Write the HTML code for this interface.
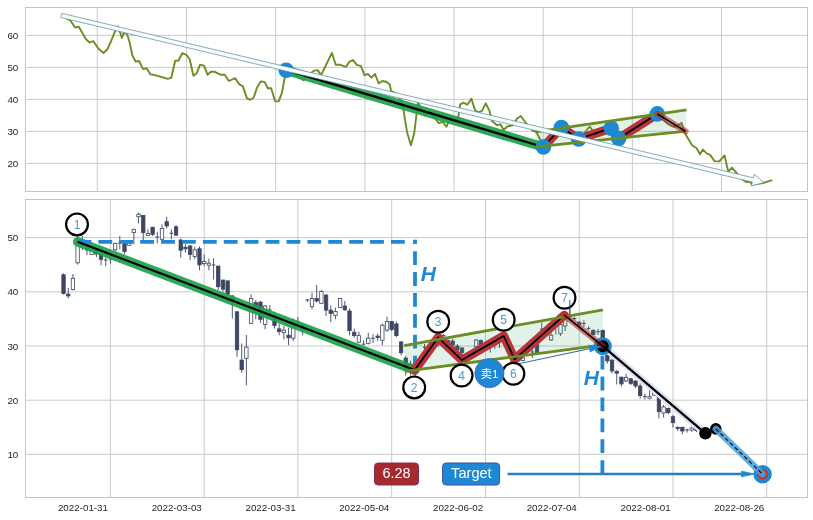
<!DOCTYPE html>
<html><head><meta charset="utf-8"><title>chart</title>
<style>html,body{margin:0;padding:0;background:#fff}svg{display:block}svg text{font-family:"Liberation Sans",sans-serif}svg text.cjk{font-family:"Liberation Sans","Noto Sans CJK SC",sans-serif}</style></head>
<body>
<svg width="813" height="520" viewBox="0 0 813 520">
<rect width="813" height="520" fill="#fff"/>
<defs>
<clipPath id="ct"><rect x="25.5" y="7.5" width="782.0" height="184.0"/></clipPath>
<clipPath id="cb"><rect x="25.5" y="199.5" width="782.0" height="298.0"/></clipPath>
</defs>
<path d="M97.3 7.5V191.5M186.5 7.5V191.5M275.7 7.5V191.5M364.9 7.5V191.5M454.0 7.5V191.5M543.2 7.5V191.5M632.4 7.5V191.5M721.5 7.5V191.5M25.5 35.4H807.5M25.5 67.4H807.5M25.5 99.4H807.5M25.5 131.4H807.5M25.5 163.4H807.5" stroke="#c4c4c4" stroke-width="0.9" fill="none"/>
<text x="18.3" y="38.9" font-size="9.8" fill="#262626" text-anchor="end">60</text>
<text x="18.3" y="70.9" font-size="9.8" fill="#262626" text-anchor="end">50</text>
<text x="18.3" y="102.9" font-size="9.8" fill="#262626" text-anchor="end">40</text>
<text x="18.3" y="134.9" font-size="9.8" fill="#262626" text-anchor="end">30</text>
<text x="18.3" y="166.9" font-size="9.8" fill="#262626" text-anchor="end">20</text>
<g clip-path="url(#ct)">
<polyline points="67.6,19.2 70.4,20.4 75.1,27.6 78.8,26.7 86.0,39.3 89.6,42.6 93.2,41.0 98.5,48.8 103.5,53.0 107.4,49.3 111.1,41.0 115.6,30.1 117.7,26.4 119.9,31.8 121.9,38.0 123.9,32.6 126.9,33.8 129.5,41.8 132.3,55.2 135.6,61.5 139.0,61.0 143.2,69.1 146.7,68.2 150.4,74.4 153.7,74.8 160.4,76.6 167.9,78.8 171.3,77.8 175.1,61.0 178.5,60.5 182.2,53.2 186.4,54.8 189.7,59.3 193.4,75.7 196.7,73.2 200.1,64.6 203.9,65.6 207.6,74.8 210.9,71.8 214.8,71.8 221.0,74.8 224.8,74.7 228.8,81.0 235.2,78.2 239.4,84.4 242.7,86.1 246.9,98.1 250.3,99.8 253.6,97.8 257.3,86.9 260.8,81.5 264.5,81.9 267.8,88.2 271.2,88.2 275.0,101.1 278.7,101.4 282.0,92.7 284.5,78.5 286.2,70.2 290.0,72.5 294.0,74.0 298.5,77.0 303.4,80.1 308.0,76.0 313.5,70.9 317.6,70.1 321.0,75.1 325.2,66.8 331.9,52.9 335.7,64.8 339.4,64.6 346.1,66.8 349.4,61.7 353.1,60.1 357.0,65.1 360.8,65.9 364.5,75.1 367.8,74.0 371.5,77.6 375.0,74.0 378.7,83.5 382.4,81.0 386.2,81.8 389.6,84.3 391.2,91.0 395.0,93.0 399.0,96.0 403.4,109.3 407.0,131.9 410.9,145.2 414.2,133.5 416.7,112.6 417.9,102.6 421.0,108.0 424.8,115.6 428.0,112.0 431.5,113.0 435.1,118.5 438.8,123.2 442.7,121.8 446.4,126.8 448.5,121.8 452.0,120.0 455.0,121.0 458.2,117.6 460.2,104.3 463.6,102.6 467.3,104.8 471.4,98.7 475.0,110.1 478.1,112.3 482.0,110.9 485.8,103.4 489.5,110.9 492.0,121.0 497.0,125.2 500.4,124.3 503.7,130.2 507.1,126.5 512.9,125.2 517.1,118.5 520.8,116.0 526.3,123.5 530.0,127.5 533.0,131.0 536.0,131.5 540.0,139.0 543.5,146.4 547.0,141.0 550.5,137.0 554.0,133.0 557.5,131.0 561.4,127.5 565.0,131.0 568.5,133.0 572.0,136.0 575.5,137.0 578.7,139.0 582.0,136.0 586.0,131.0 589.7,126.5 593.0,131.0 597.0,132.0 600.5,131.0 604.0,130.0 607.5,129.0 611.2,128.2 615.0,134.0 618.6,138.6 622.0,136.0 626.0,133.0 629.5,132.0 633.0,130.0 636.5,127.0 640.0,125.0 643.5,123.0 647.0,120.0 650.5,118.0 654.0,116.0 657.3,113.9 661.0,118.0 664.5,121.0 668.0,124.0 671.5,126.0 675.0,127.0 678.5,125.0 681.6,122.8 684.9,133.3 692.3,145.5 696.4,148.0 700.0,154.2 702.9,149.6 707.0,153.7 710.3,154.9 714.4,161.1 719.3,161.4 724.5,155.4 728.3,171.7 732.0,167.6 737.3,173.8 742.2,179.1 746.3,182.0 750.3,181.5 752.0,184.8 756.0,184.0 760.0,183.5 764.2,182.7 771.6,180.4" fill="none" stroke="#6b8e23" stroke-width="1.9" stroke-linejoin="round" stroke-linecap="round"/>
<polygon points="535.5,131.8 686.6,109.9 686,131.2 536,146.8" fill="#3aa060" fill-opacity="0.14"/>
<path d="M286.2 70.2L543.4 147.0" stroke="#1fa24a" stroke-opacity="0.93" stroke-width="9.4" stroke-linecap="round" fill="none"/>
<polyline points="543.4,147.0 561.4,127.5 578.7,139 611.2,128.2 618.6,138.6 657.3,113.9" stroke="#b8343a" stroke-width="9" stroke-linecap="round" stroke-linejoin="round" fill="none"/>
<path d="M286.2 70.2L543.4 147.0" stroke="#000" stroke-width="2.3" fill="none"/>
<polyline points="543.4,147.0 561.4,127.5 578.7,139 611.2,128.2 618.6,138.6 657.3,113.9" stroke="#000" stroke-width="1.8" stroke-linejoin="round" fill="none"/>
<circle cx="286.2" cy="70.2" r="7.8" fill="#1f88d2"/>
<circle cx="543.4" cy="147.0" r="7.8" fill="#1f88d2"/>
<circle cx="561.4" cy="127.5" r="7.8" fill="#1f88d2"/>
<circle cx="578.7" cy="139" r="7.8" fill="#1f88d2"/>
<circle cx="611.2" cy="128.2" r="7.8" fill="#1f88d2"/>
<circle cx="618.6" cy="138.6" r="7.8" fill="#1f88d2"/>
<circle cx="657.3" cy="113.9" r="7.8" fill="#1f88d2"/>
<path d="M535.5 131.8L686.6 109.9M536 146.8L686 131.2" stroke="#6b8e23" stroke-width="2.8" fill="none"/>
<path d="M657.3 113.9L685.6 131.4" stroke="#be282d" stroke-opacity="0.6" stroke-width="6" stroke-linecap="round" fill="none"/>
<path d="M657.3 113.9L685.6 131.4" stroke="#000" stroke-width="1.7" fill="none"/>
<polygon points="60.7,17.5 752.3,182.1 751.4,185.8 764.0,182.6 754.2,174.1 753.3,177.8 61.7,13.3" fill="#f6fdff" stroke="#5d8796" stroke-width="0.7" stroke-linejoin="miter"/>
</g>
<rect x="25.5" y="7.5" width="782.0" height="184.0" fill="none" stroke="#c4c4c4" stroke-width="1"/>
<path d="M110.4 199.5V497.5M204.2 199.5V497.5M297.9 199.5V497.5M391.7 199.5V497.5M485.5 199.5V497.5M579.2 199.5V497.5M673.0 199.5V497.5M766.7 199.5V497.5M25.5 237.6H807.5M25.5 291.8H807.5M25.5 346.0H807.5M25.5 400.2H807.5M25.5 454.4H807.5" stroke="#c4c4c4" stroke-width="0.9" fill="none"/>
<text x="18.3" y="241.1" font-size="9.8" fill="#262626" text-anchor="end">50</text>
<text x="18.3" y="295.3" font-size="9.8" fill="#262626" text-anchor="end">40</text>
<text x="18.3" y="349.5" font-size="9.8" fill="#262626" text-anchor="end">30</text>
<text x="18.3" y="403.7" font-size="9.8" fill="#262626" text-anchor="end">20</text>
<text x="18.3" y="457.9" font-size="9.8" fill="#262626" text-anchor="end">10</text>
<text x="108.0" y="511.2" font-size="9.8" fill="#262626" text-anchor="end">2022-01-31</text>
<text x="201.8" y="511.2" font-size="9.8" fill="#262626" text-anchor="end">2022-03-03</text>
<text x="295.6" y="511.2" font-size="9.8" fill="#262626" text-anchor="end">2022-03-31</text>
<text x="389.3" y="511.2" font-size="9.8" fill="#262626" text-anchor="end">2022-05-04</text>
<text x="483.1" y="511.2" font-size="9.8" fill="#262626" text-anchor="end">2022-06-02</text>
<text x="576.8" y="511.2" font-size="9.8" fill="#262626" text-anchor="end">2022-07-04</text>
<text x="670.6" y="511.2" font-size="9.8" fill="#262626" text-anchor="end">2022-08-01</text>
<text x="764.3" y="511.2" font-size="9.8" fill="#262626" text-anchor="end">2022-08-26</text>
<g clip-path="url(#cb)">
<g><path d="M63.55 273.3V294.6" stroke="#3d4663" stroke-width="0.9"/><rect x="61.85" y="274.8" width="3.4" height="18.6" fill="#3d4663" stroke="#3d4663" stroke-width="0.8"/><path d="M68.24 287.8V298.4" stroke="#3d4663" stroke-width="0.9"/><rect x="66.54" y="294.1" width="3.4" height="1.8" fill="#3d4663" stroke="#3d4663" stroke-width="0.8"/><path d="M72.93 274V290.4" stroke="#3d4663" stroke-width="0.9"/><rect x="71.23" y="278.3" width="3.4" height="11.3" fill="#fff" stroke="#3d4663" stroke-width="0.8"/><path d="M77.61 236V264.6" stroke="#3d4663" stroke-width="0.9"/><rect x="75.91" y="242.2" width="3.4" height="20.6" fill="#fff" stroke="#3d4663" stroke-width="0.8"/><path d="M82.30 236V250" stroke="#3d4663" stroke-width="0.9"/><rect x="80.60" y="240" width="3.4" height="6.0" fill="#3d4663" stroke="#3d4663" stroke-width="0.8"/><path d="M86.99 243.5V255.2" stroke="#3d4663" stroke-width="0.9"/><rect x="85.29" y="246" width="3.4" height="4.0" fill="#3d4663" stroke="#3d4663" stroke-width="0.8"/><path d="M91.68 247V255" stroke="#3d4663" stroke-width="0.9"/><rect x="89.98" y="250.2" width="3.4" height="4.2" fill="#fff" stroke="#3d4663" stroke-width="0.8"/><path d="M96.37 248V257" stroke="#3d4663" stroke-width="0.9"/><rect x="94.67" y="250" width="3.4" height="4.0" fill="#3d4663" stroke="#3d4663" stroke-width="0.8"/><path d="M101.05 252V265.2" stroke="#3d4663" stroke-width="0.9"/><rect x="99.35" y="254.4" width="3.4" height="5.0" fill="#3d4663" stroke="#3d4663" stroke-width="0.8"/><path d="M105.74 256.9V266.1" stroke="#3d4663" stroke-width="0.9"/><path d="M103.94 260H107.54" stroke="#3d4663" stroke-width="1"/><path d="M110.43 258V263.5" stroke="#3d4663" stroke-width="0.9"/><path d="M108.63 259H112.23" stroke="#3d4663" stroke-width="1"/><path d="M115.12 242.7V251" stroke="#3d4663" stroke-width="0.9"/><rect x="113.42" y="243.5" width="3.4" height="6.3" fill="#fff" stroke="#3d4663" stroke-width="0.8"/><path d="M119.81 236V249.3" stroke="#3d4663" stroke-width="0.9"/><path d="M118.01 243H121.61" stroke="#3d4663" stroke-width="1"/><path d="M124.49 242.7V254.4" stroke="#3d4663" stroke-width="0.9"/><rect x="122.79" y="243.8" width="3.4" height="7.7" fill="#3d4663" stroke="#3d4663" stroke-width="0.8"/><path d="M129.18 240V246" stroke="#3d4663" stroke-width="0.9"/><rect x="127.48" y="242.7" width="3.4" height="2.5" fill="#fff" stroke="#3d4663" stroke-width="0.8"/><path d="M133.87 228.8V244.3" stroke="#3d4663" stroke-width="0.9"/><rect x="132.17" y="229.3" width="3.4" height="3.3" fill="#fff" stroke="#3d4663" stroke-width="0.8"/><path d="M138.56 212.5V223.4" stroke="#3d4663" stroke-width="0.9"/><rect x="136.86" y="214.2" width="3.4" height="2.5" fill="#fff" stroke="#3d4663" stroke-width="0.8"/><path d="M143.25 215V240" stroke="#3d4663" stroke-width="0.9"/><rect x="141.55" y="215.4" width="3.4" height="17.2" fill="#3d4663" stroke="#3d4663" stroke-width="0.8"/><path d="M147.93 229.3V236" stroke="#3d4663" stroke-width="0.9"/><rect x="146.23" y="233.5" width="3.4" height="2.0" fill="#fff" stroke="#3d4663" stroke-width="0.8"/><path d="M152.62 226.8V236" stroke="#3d4663" stroke-width="0.9"/><rect x="150.92" y="227.3" width="3.4" height="7.0" fill="#3d4663" stroke="#3d4663" stroke-width="0.8"/><path d="M157.31 231.8V243.5" stroke="#3d4663" stroke-width="0.9"/><path d="M155.51 237H159.11" stroke="#3d4663" stroke-width="1"/><path d="M162.00 224.3V240.1" stroke="#3d4663" stroke-width="0.9"/><rect x="160.30" y="228.4" width="3.4" height="10.9" fill="#fff" stroke="#3d4663" stroke-width="0.8"/><path d="M166.69 216.7V228.4" stroke="#3d4663" stroke-width="0.9"/><rect x="164.99" y="221.7" width="3.4" height="4.2" fill="#3d4663" stroke="#3d4663" stroke-width="0.8"/><path d="M171.37 229.3V239.3" stroke="#3d4663" stroke-width="0.9"/><path d="M169.57 233.3H173.17" stroke="#3d4663" stroke-width="1"/><path d="M176.06 225.1V236" stroke="#3d4663" stroke-width="0.9"/><rect x="174.36" y="226.8" width="3.4" height="8.3" fill="#3d4663" stroke="#3d4663" stroke-width="0.8"/><path d="M180.75 238.5V257.7" stroke="#3d4663" stroke-width="0.9"/><rect x="179.05" y="240.1" width="3.4" height="10.1" fill="#3d4663" stroke="#3d4663" stroke-width="0.8"/><path d="M185.44 244.3V252.7" stroke="#3d4663" stroke-width="0.9"/><rect x="183.74" y="247.2" width="3.4" height="1.6" fill="#3d4663" stroke="#3d4663" stroke-width="0.8"/><path d="M190.13 245V260.2" stroke="#3d4663" stroke-width="0.9"/><rect x="188.43" y="246" width="3.4" height="8.4" fill="#3d4663" stroke="#3d4663" stroke-width="0.8"/><path d="M194.81 246.8V259.4" stroke="#3d4663" stroke-width="0.9"/><rect x="193.11" y="249.8" width="3.4" height="6.7" fill="#fff" stroke="#3d4663" stroke-width="0.8"/><path d="M199.50 246.5V270.3" stroke="#3d4663" stroke-width="0.9"/><rect x="197.80" y="248.8" width="3.4" height="16.1" fill="#3d4663" stroke="#3d4663" stroke-width="0.8"/><path d="M204.19 254.4V266.1" stroke="#3d4663" stroke-width="0.9"/><rect x="202.49" y="261.4" width="3.4" height="2.2" fill="#fff" stroke="#3d4663" stroke-width="0.8"/><path d="M208.88 258.5V270.3" stroke="#3d4663" stroke-width="0.9"/><rect x="207.18" y="263.2" width="3.4" height="2.0" fill="#fff" stroke="#3d4663" stroke-width="0.8"/><path d="M213.57 258.2V279.5" stroke="#3d4663" stroke-width="0.9"/><path d="M211.77 265H215.37" stroke="#3d4663" stroke-width="1"/><path d="M218.25 266V290" stroke="#3d4663" stroke-width="0.9"/><rect x="216.55" y="266.1" width="3.4" height="20.6" fill="#3d4663" stroke="#3d4663" stroke-width="0.8"/><path d="M222.94 280V291.7" stroke="#3d4663" stroke-width="0.9"/><rect x="221.24" y="280" width="3.4" height="9.2" fill="#3d4663" stroke="#3d4663" stroke-width="0.8"/><path d="M227.63 280.5V296" stroke="#3d4663" stroke-width="0.9"/><rect x="225.93" y="280.9" width="3.4" height="13.4" fill="#3d4663" stroke="#3d4663" stroke-width="0.8"/><path d="M232.32 295V318.5" stroke="#3d4663" stroke-width="0.9"/><rect x="230.62" y="296" width="3.4" height="6.0" fill="#3d4663" stroke="#3d4663" stroke-width="0.8"/><path d="M237.01 311V356.8" stroke="#3d4663" stroke-width="0.9"/><rect x="235.31" y="311.8" width="3.4" height="38.0" fill="#3d4663" stroke="#3d4663" stroke-width="0.8"/><path d="M241.69 343.4V372.7" stroke="#3d4663" stroke-width="0.9"/><rect x="239.99" y="360.1" width="3.4" height="9.6" fill="#3d4663" stroke="#3d4663" stroke-width="0.8"/><path d="M246.38 335V385.2" stroke="#3d4663" stroke-width="0.9"/><rect x="244.68" y="347.1" width="3.4" height="11.4" fill="#fff" stroke="#3d4663" stroke-width="0.8"/><path d="M251.07 294.3V324" stroke="#3d4663" stroke-width="0.9"/><rect x="249.37" y="298.4" width="3.4" height="25.1" fill="#fff" stroke="#3d4663" stroke-width="0.8"/><path d="M255.76 300.1V319.3" stroke="#3d4663" stroke-width="0.9"/><rect x="254.06" y="302.6" width="3.4" height="5.0" fill="#3d4663" stroke="#3d4663" stroke-width="0.8"/><path d="M260.45 301V322.7" stroke="#3d4663" stroke-width="0.9"/><rect x="258.75" y="302.1" width="3.4" height="17.2" fill="#3d4663" stroke="#3d4663" stroke-width="0.8"/><path d="M265.13 305V329.4" stroke="#3d4663" stroke-width="0.9"/><rect x="263.43" y="306" width="3.4" height="18.4" fill="#fff" stroke="#3d4663" stroke-width="0.8"/><path d="M269.82 305V313.5" stroke="#3d4663" stroke-width="0.9"/><path d="M268.02 310H271.62" stroke="#3d4663" stroke-width="1"/><path d="M274.51 311.8V328.5" stroke="#3d4663" stroke-width="0.9"/><rect x="272.81" y="318.5" width="3.4" height="7.0" fill="#3d4663" stroke="#3d4663" stroke-width="0.8"/><path d="M279.20 323.5V335.2" stroke="#3d4663" stroke-width="0.9"/><rect x="277.50" y="328.9" width="3.4" height="2.7" fill="#3d4663" stroke="#3d4663" stroke-width="0.8"/><path d="M283.89 326V339.4" stroke="#3d4663" stroke-width="0.9"/><rect x="282.19" y="330.2" width="3.4" height="2.5" fill="#fff" stroke="#3d4663" stroke-width="0.8"/><path d="M288.57 327.7V345.3" stroke="#3d4663" stroke-width="0.9"/><rect x="286.87" y="335.2" width="3.4" height="2.5" fill="#3d4663" stroke="#3d4663" stroke-width="0.8"/><path d="M293.26 318.5V341.1" stroke="#3d4663" stroke-width="0.9"/><rect x="291.56" y="325.2" width="3.4" height="13.0" fill="#fff" stroke="#3d4663" stroke-width="0.8"/><path d="M297.95 317V325.5" stroke="#3d4663" stroke-width="0.9"/><path d="M296.15 322H299.75" stroke="#3d4663" stroke-width="1"/><path d="M302.64 324V335.2" stroke="#3d4663" stroke-width="0.9"/><rect x="300.94" y="326" width="3.4" height="4.0" fill="#3d4663" stroke="#3d4663" stroke-width="0.8"/><path d="M307.33 299V302" stroke="#3d4663" stroke-width="0.9"/><path d="M305.53 300H309.13" stroke="#3d4663" stroke-width="1"/><path d="M312.01 292.6V309.3" stroke="#3d4663" stroke-width="0.9"/><rect x="310.31" y="298.4" width="3.4" height="8.1" fill="#fff" stroke="#3d4663" stroke-width="0.8"/><path d="M316.70 285V302.6" stroke="#3d4663" stroke-width="0.9"/><rect x="315.00" y="298.4" width="3.4" height="2.6" fill="#3d4663" stroke="#3d4663" stroke-width="0.8"/><path d="M321.39 290V303.5" stroke="#3d4663" stroke-width="0.9"/><rect x="319.69" y="291.4" width="3.4" height="12.1" fill="#fff" stroke="#3d4663" stroke-width="0.8"/><path d="M326.08 294V316" stroke="#3d4663" stroke-width="0.9"/><rect x="324.38" y="295.1" width="3.4" height="15.0" fill="#3d4663" stroke="#3d4663" stroke-width="0.8"/><path d="M330.77 305.5V322.2" stroke="#3d4663" stroke-width="0.9"/><rect x="329.07" y="310.1" width="3.4" height="3.4" fill="#3d4663" stroke="#3d4663" stroke-width="0.8"/><path d="M335.45 307.6V319.3" stroke="#3d4663" stroke-width="0.9"/><rect x="333.75" y="311.5" width="3.4" height="4.0" fill="#fff" stroke="#3d4663" stroke-width="0.8"/><path d="M340.14 298V308" stroke="#3d4663" stroke-width="0.9"/><rect x="338.44" y="298.4" width="3.4" height="9.2" fill="#fff" stroke="#3d4663" stroke-width="0.8"/><path d="M344.83 301V311" stroke="#3d4663" stroke-width="0.9"/><rect x="343.13" y="306" width="3.4" height="3.8" fill="#3d4663" stroke="#3d4663" stroke-width="0.8"/><path d="M349.52 308.5V335.2" stroke="#3d4663" stroke-width="0.9"/><rect x="347.82" y="311" width="3.4" height="19.6" fill="#3d4663" stroke="#3d4663" stroke-width="0.8"/><path d="M354.21 328.5V337.7" stroke="#3d4663" stroke-width="0.9"/><rect x="352.51" y="332.2" width="3.4" height="3.4" fill="#3d4663" stroke="#3d4663" stroke-width="0.8"/><path d="M358.89 331.6V342.8" stroke="#3d4663" stroke-width="0.9"/><rect x="357.19" y="335.6" width="3.4" height="6.7" fill="#fff" stroke="#3d4663" stroke-width="0.8"/><path d="M363.58 340.3V345.3" stroke="#3d4663" stroke-width="0.9"/><path d="M361.78 344.2H365.38" stroke="#3d4663" stroke-width="1"/><path d="M368.27 332.7V344.4" stroke="#3d4663" stroke-width="0.9"/><rect x="366.57" y="338.2" width="3.4" height="5.1" fill="#fff" stroke="#3d4663" stroke-width="0.8"/><path d="M372.96 334.4V342.8" stroke="#3d4663" stroke-width="0.9"/><path d="M371.16 338.3H374.76" stroke="#3d4663" stroke-width="1"/><path d="M377.65 333.6V341.1" stroke="#3d4663" stroke-width="0.9"/><rect x="375.95" y="336.1" width="3.4" height="1.3" fill="#3d4663" stroke="#3d4663" stroke-width="0.8"/><path d="M382.33 323.5V345.3" stroke="#3d4663" stroke-width="0.9"/><rect x="380.63" y="325.2" width="3.4" height="15.1" fill="#fff" stroke="#3d4663" stroke-width="0.8"/><path d="M387.02 316.5V331.9" stroke="#3d4663" stroke-width="0.9"/><rect x="385.32" y="321.5" width="3.4" height="8.7" fill="#fff" stroke="#3d4663" stroke-width="0.8"/><path d="M391.71 321V331" stroke="#3d4663" stroke-width="0.9"/><rect x="390.01" y="321.5" width="3.4" height="7.9" fill="#3d4663" stroke="#3d4663" stroke-width="0.8"/><path d="M396.40 321.5V337.2" stroke="#3d4663" stroke-width="0.9"/><rect x="394.70" y="323.9" width="3.4" height="11.7" fill="#3d4663" stroke="#3d4663" stroke-width="0.8"/><path d="M401.09 341.1V355.3" stroke="#3d4663" stroke-width="0.9"/><rect x="399.39" y="341.9" width="3.4" height="10.9" fill="#3d4663" stroke="#3d4663" stroke-width="0.8"/><path d="M405.77 356V375.5" stroke="#3d4663" stroke-width="0.9"/><rect x="404.07" y="358" width="3.4" height="10.0" fill="#3d4663" stroke="#3d4663" stroke-width="0.8"/><path d="M410.46 360.7V375.5" stroke="#3d4663" stroke-width="0.9"/><rect x="408.76" y="364" width="3.4" height="6.0" fill="#3d4663" stroke="#3d4663" stroke-width="0.8"/><path d="M415.15 366V376" stroke="#3d4663" stroke-width="0.9"/><rect x="413.45" y="368" width="3.4" height="4.0" fill="#fff" stroke="#3d4663" stroke-width="0.8"/><path d="M419.84 360V368" stroke="#3d4663" stroke-width="0.9"/><rect x="418.14" y="361" width="3.4" height="5.0" fill="#fff" stroke="#3d4663" stroke-width="0.8"/><path d="M424.53 344V351" stroke="#3d4663" stroke-width="0.9"/><path d="M422.73 347.4H426.33" stroke="#3d4663" stroke-width="1"/><path d="M429.21 347V353" stroke="#3d4663" stroke-width="0.9"/><rect x="427.51" y="348" width="3.4" height="4.0" fill="#fff" stroke="#3d4663" stroke-width="0.8"/><path d="M433.90 341V347" stroke="#3d4663" stroke-width="0.9"/><rect x="432.20" y="342" width="3.4" height="4.0" fill="#fff" stroke="#3d4663" stroke-width="0.8"/><path d="M438.59 336V346.5" stroke="#3d4663" stroke-width="0.9"/><rect x="436.89" y="337" width="3.4" height="4.0" fill="#fff" stroke="#3d4663" stroke-width="0.8"/><path d="M443.28 334V342" stroke="#3d4663" stroke-width="0.9"/><rect x="441.58" y="335.5" width="3.4" height="3.5" fill="#fff" stroke="#3d4663" stroke-width="0.8"/><path d="M447.97 338V346" stroke="#3d4663" stroke-width="0.9"/><rect x="446.27" y="340.6" width="3.4" height="4.1" fill="#3d4663" stroke="#3d4663" stroke-width="0.8"/><path d="M452.65 339V347" stroke="#3d4663" stroke-width="0.9"/><rect x="450.95" y="341" width="3.4" height="4.0" fill="#3d4663" stroke="#3d4663" stroke-width="0.8"/><path d="M457.34 344V352" stroke="#3d4663" stroke-width="0.9"/><rect x="455.64" y="346" width="3.4" height="4.0" fill="#3d4663" stroke="#3d4663" stroke-width="0.8"/><path d="M462.03 347V361" stroke="#3d4663" stroke-width="0.9"/><rect x="460.33" y="348" width="3.4" height="4.5" fill="#3d4663" stroke="#3d4663" stroke-width="0.8"/><path d="M466.72 354V360" stroke="#3d4663" stroke-width="0.9"/><rect x="465.02" y="355.5" width="3.4" height="3.5" fill="#fff" stroke="#3d4663" stroke-width="0.8"/><path d="M471.41 352V357.5" stroke="#3d4663" stroke-width="0.9"/><rect x="469.71" y="353" width="3.4" height="3.5" fill="#fff" stroke="#3d4663" stroke-width="0.8"/><path d="M476.09 339V349" stroke="#3d4663" stroke-width="0.9"/><rect x="474.39" y="340" width="3.4" height="6.7" fill="#fff" stroke="#3d4663" stroke-width="0.8"/><path d="M480.78 339.5V348" stroke="#3d4663" stroke-width="0.9"/><rect x="479.08" y="340.5" width="3.4" height="5.5" fill="#3d4663" stroke="#3d4663" stroke-width="0.8"/><path d="M485.47 345V348" stroke="#3d4663" stroke-width="0.9"/><path d="M483.67 346.6H487.27" stroke="#3d4663" stroke-width="1"/><path d="M490.16 342V352.5" stroke="#3d4663" stroke-width="0.9"/><path d="M488.36 344H491.96" stroke="#3d4663" stroke-width="1"/><path d="M494.85 339V349" stroke="#3d4663" stroke-width="0.9"/><rect x="493.15" y="340" width="3.4" height="3.0" fill="#fff" stroke="#3d4663" stroke-width="0.8"/><path d="M499.53 336V348" stroke="#3d4663" stroke-width="0.9"/><rect x="497.83" y="337" width="3.4" height="3.0" fill="#fff" stroke="#3d4663" stroke-width="0.8"/><path d="M504.22 335V344" stroke="#3d4663" stroke-width="0.9"/><rect x="502.52" y="336" width="3.4" height="6.0" fill="#3d4663" stroke="#3d4663" stroke-width="0.8"/><path d="M508.91 343V352" stroke="#3d4663" stroke-width="0.9"/><rect x="507.21" y="344" width="3.4" height="7.0" fill="#3d4663" stroke="#3d4663" stroke-width="0.8"/><path d="M513.60 355V362" stroke="#3d4663" stroke-width="0.9"/><rect x="511.90" y="357" width="3.4" height="3.5" fill="#fff" stroke="#3d4663" stroke-width="0.8"/><path d="M518.29 355V362" stroke="#3d4663" stroke-width="0.9"/><rect x="516.59" y="358.2" width="3.4" height="2.7" fill="#fff" stroke="#3d4663" stroke-width="0.8"/><path d="M522.97 353V361.5" stroke="#3d4663" stroke-width="0.9"/><rect x="521.27" y="358" width="3.4" height="2.5" fill="#fff" stroke="#3d4663" stroke-width="0.8"/><path d="M527.66 345V350" stroke="#3d4663" stroke-width="0.9"/><path d="M525.86 347H529.46" stroke="#3d4663" stroke-width="1"/><path d="M532.35 346V358" stroke="#3d4663" stroke-width="0.9"/><path d="M530.55 352H534.15" stroke="#3d4663" stroke-width="1"/><path d="M537.04 341V353.5" stroke="#3d4663" stroke-width="0.9"/><rect x="535.34" y="343.3" width="3.4" height="9.5" fill="#3d4663" stroke="#3d4663" stroke-width="0.8"/><path d="M541.73 322.3V336" stroke="#3d4663" stroke-width="0.9"/><path d="M539.93 329.1H543.53" stroke="#3d4663" stroke-width="1"/><path d="M546.41 328.5V334" stroke="#3d4663" stroke-width="0.9"/><rect x="544.71" y="329.5" width="3.4" height="3.5" fill="#fff" stroke="#3d4663" stroke-width="0.8"/><path d="M551.10 326V341" stroke="#3d4663" stroke-width="0.9"/><rect x="549.40" y="335.2" width="3.4" height="4.7" fill="#fff" stroke="#3d4663" stroke-width="0.8"/><path d="M555.79 322V334.5" stroke="#3d4663" stroke-width="0.9"/><path d="M553.99 324H557.59" stroke="#3d4663" stroke-width="1"/><path d="M560.48 318V336" stroke="#3d4663" stroke-width="0.9"/><rect x="558.78" y="324.4" width="3.4" height="9.4" fill="#fff" stroke="#3d4663" stroke-width="0.8"/><path d="M565.17 314V331" stroke="#3d4663" stroke-width="0.9"/><rect x="563.47" y="317" width="3.4" height="9.0" fill="#fff" stroke="#3d4663" stroke-width="0.8"/><path d="M569.85 300V320" stroke="#3d4663" stroke-width="0.9"/><path d="M568.05 315H571.65" stroke="#3d4663" stroke-width="1"/><path d="M574.54 317V320.3" stroke="#3d4663" stroke-width="0.9"/><path d="M572.74 318.5H576.34" stroke="#3d4663" stroke-width="1"/><path d="M579.23 321V326" stroke="#3d4663" stroke-width="0.9"/><rect x="577.53" y="322.3" width="3.4" height="2.7" fill="#3d4663" stroke="#3d4663" stroke-width="0.8"/><path d="M583.92 320.3V327" stroke="#3d4663" stroke-width="0.9"/><path d="M582.12 323.5H585.72" stroke="#3d4663" stroke-width="1"/><path d="M588.61 326.4V330.4" stroke="#3d4663" stroke-width="0.9"/><path d="M586.81 328.4H590.41" stroke="#3d4663" stroke-width="1"/><path d="M593.29 329V335" stroke="#3d4663" stroke-width="0.9"/><rect x="591.59" y="330.4" width="3.4" height="4.1" fill="#3d4663" stroke="#3d4663" stroke-width="0.8"/><path d="M597.98 329V335" stroke="#3d4663" stroke-width="0.9"/><path d="M596.18 331.8H599.78" stroke="#3d4663" stroke-width="1"/><path d="M602.67 329.5V346" stroke="#3d4663" stroke-width="0.9"/><rect x="600.97" y="330.4" width="3.4" height="8.8" fill="#3d4663" stroke="#3d4663" stroke-width="0.8"/><path d="M607.36 350V363.5" stroke="#3d4663" stroke-width="0.9"/><rect x="605.66" y="355.1" width="3.4" height="5.8" fill="#3d4663" stroke="#3d4663" stroke-width="0.8"/><path d="M612.05 359V373.5" stroke="#3d4663" stroke-width="0.9"/><rect x="610.35" y="360.1" width="3.4" height="10.9" fill="#3d4663" stroke="#3d4663" stroke-width="0.8"/><path d="M616.73 370.1V384.4" stroke="#3d4663" stroke-width="0.9"/><rect x="615.03" y="371.5" width="3.4" height="1.7" fill="#3d4663" stroke="#3d4663" stroke-width="0.8"/><path d="M621.42 376.5V386.5" stroke="#3d4663" stroke-width="0.9"/><rect x="619.72" y="377.2" width="3.4" height="6.7" fill="#3d4663" stroke="#3d4663" stroke-width="0.8"/><path d="M626.11 373.8V382.2" stroke="#3d4663" stroke-width="0.9"/><rect x="624.41" y="377.3" width="3.4" height="3.7" fill="#fff" stroke="#3d4663" stroke-width="0.8"/><path d="M630.80 377.6V385" stroke="#3d4663" stroke-width="0.9"/><rect x="629.10" y="378.8" width="3.4" height="4.7" fill="#3d4663" stroke="#3d4663" stroke-width="0.8"/><path d="M635.49 380.2V388.2" stroke="#3d4663" stroke-width="0.9"/><rect x="633.79" y="381" width="3.4" height="5.0" fill="#3d4663" stroke="#3d4663" stroke-width="0.8"/><path d="M640.17 383.5V398.6" stroke="#3d4663" stroke-width="0.9"/><rect x="638.47" y="386" width="3.4" height="9.6" fill="#3d4663" stroke="#3d4663" stroke-width="0.8"/><path d="M644.86 393.6V399.4" stroke="#3d4663" stroke-width="0.9"/><path d="M643.06 396.7H646.66" stroke="#3d4663" stroke-width="1"/><path d="M649.55 390.2V399.4" stroke="#3d4663" stroke-width="0.9"/><rect x="647.85" y="396.6" width="3.4" height="1.6" fill="#fff" stroke="#3d4663" stroke-width="0.8"/><path d="M654.24 387V396" stroke="#3d4663" stroke-width="0.9"/><rect x="652.54" y="387.7" width="3.4" height="7.5" fill="#fff" stroke="#3d4663" stroke-width="0.8"/><path d="M658.93 395.5V418.4" stroke="#3d4663" stroke-width="0.9"/><rect x="657.23" y="396.1" width="3.4" height="15.6" fill="#3d4663" stroke="#3d4663" stroke-width="0.8"/><path d="M663.61 405V417.5" stroke="#3d4663" stroke-width="0.9"/><rect x="661.91" y="407" width="3.4" height="6.0" fill="#fff" stroke="#3d4663" stroke-width="0.8"/><path d="M668.30 407.5V414.2" stroke="#3d4663" stroke-width="0.9"/><rect x="666.60" y="408.4" width="3.4" height="4.2" fill="#3d4663" stroke="#3d4663" stroke-width="0.8"/><path d="M672.99 415V427.6" stroke="#3d4663" stroke-width="0.9"/><rect x="671.29" y="416.7" width="3.4" height="5.9" fill="#3d4663" stroke="#3d4663" stroke-width="0.8"/><path d="M677.68 426.5V431" stroke="#3d4663" stroke-width="0.9"/><rect x="675.98" y="427.3" width="3.4" height="1.2" fill="#3d4663" stroke="#3d4663" stroke-width="0.8"/><path d="M682.37 426.8V434.3" stroke="#3d4663" stroke-width="0.9"/><rect x="680.67" y="427.3" width="3.4" height="3.7" fill="#3d4663" stroke="#3d4663" stroke-width="0.8"/><path d="M687.05 428.5V432.6" stroke="#3d4663" stroke-width="0.9"/><path d="M685.25 430H688.85" stroke="#3d4663" stroke-width="1"/><path d="M691.74 426.8V431.8" stroke="#3d4663" stroke-width="0.9"/><rect x="690.04" y="428.1" width="3.4" height="2.0" fill="#fff" stroke="#3d4663" stroke-width="0.8"/><path d="M696.43 427.6V432.1" stroke="#3d4663" stroke-width="0.9"/><rect x="694.73" y="428.5" width="3.4" height="2.0" fill="#3d4663" stroke="#3d4663" stroke-width="0.8"/><path d="M701.12 425.1V431" stroke="#3d4663" stroke-width="0.9"/><path d="M699.32 428.5H702.92" stroke="#3d4663" stroke-width="1"/></g>
<polygon points="404.2,345.6 602.9,309.8 602.9,344.8 404.8,371.4" fill="#3aa060" fill-opacity="0.14"/>
<path d="M77.6 241.8L414.7 370.1" stroke="#1fa24a" stroke-opacity="0.93" stroke-width="9.4" stroke-linecap="round" fill="none"/>
<path d="M77.5 241.9H411" stroke="#1f88d2" stroke-width="3.8" stroke-dasharray="13.8 7.1" fill="none"/>
<path d="M415 369.5V239.7" stroke="#1f88d2" stroke-width="3.8" stroke-dasharray="13.8 7.1" fill="none"/>
<path d="M602.4 474V346" stroke="#1f88d2" stroke-width="3.8" stroke-dasharray="13.8 7.1" fill="none"/>
<polyline points="414.7,370.1 438.2,337.5 461.9,360.1 503.7,335.9 514.6,359.3 564.4,315.2" stroke="#b8343a" stroke-width="9" stroke-linecap="round" stroke-linejoin="round" fill="none"/>
<path d="M77.6 241.8L414.7 370.1" stroke="#000" stroke-width="2.1" fill="none"/>
<polyline points="414.7,370.1 438.2,337.5 461.9,360.1 503.7,335.9 514.6,359.3 564.4,315.2" stroke="#000" stroke-width="1.7" stroke-linejoin="round" fill="none"/>
<path d="M404.2 345.6L602.9 309.8M404.8 371.4L602.9 344.8" stroke="#6b8e23" stroke-width="2.8" fill="none"/>
<path d="M602.8 346.2L705.4 433.3" stroke="#dde3f3" stroke-width="7" fill="none"/>
<circle cx="602.8" cy="346.2" r="9" fill="#1f88d2"/>
<circle cx="602.8" cy="346.2" r="6" fill="#000"/>
<path d="M564.4 315.2L602.5 345.9" stroke="#be282d" stroke-opacity="0.6" stroke-width="6" stroke-linecap="round" fill="none"/>
<path d="M564.4 315.2L602.5 345.9" stroke="#000" stroke-width="1.7" fill="none"/>
<path d="M503.5 366.9L594 347.8" stroke="#2f6f9f" stroke-width="1.1" fill="none"/>
<polygon points="601.5,346.4 588.5,344.8 589.9,352.4" fill="#1f88d2"/>
<path d="M602.8 346.2L705.4 433.3" stroke="#000" stroke-width="2.3" stroke-linecap="round" fill="none"/>
<circle cx="705.4" cy="433.3" r="6.2" fill="#000"/>
<circle cx="715.8" cy="428.9" r="5.8" fill="#000"/>
<path d="M507.6 474H746" stroke="#2a80bf" stroke-width="2.6" fill="none"/>
<polygon points="754.6,474 741.5,471.2 741.5,476.8" fill="#1f88d2" stroke="#1f88d2" stroke-width="0.8" stroke-linejoin="round"/>
<circle cx="762.6" cy="474.2" r="9.2" fill="#1f88d2"/>
<circle cx="762.6" cy="474.2" r="5.4" fill="#c4342c"/>
<path d="M715.8 428.9L762.6 474.2" stroke="#4aa0e0" stroke-opacity="0.88" stroke-width="6.4" stroke-linecap="round" fill="none"/>
<path d="M715.8 428.9L762.6 474.2" stroke="#111" stroke-width="1.2" stroke-dasharray="4 2.6" fill="none"/>
<circle cx="77.0" cy="224.4" r="10.9" fill="#fff" stroke="#000" stroke-width="2.2"/>
<text x="77.0" y="228.8" font-size="12" fill="#4a9ad0" text-anchor="middle">1</text>
<circle cx="414.2" cy="387.4" r="10.9" fill="#fff" stroke="#000" stroke-width="2.2"/>
<text x="414.2" y="391.79999999999995" font-size="12" fill="#4a9ad0" text-anchor="middle">2</text>
<circle cx="438.2" cy="321.8" r="10.9" fill="#fff" stroke="#000" stroke-width="2.2"/>
<text x="438.2" y="326.2" font-size="12" fill="#4a9ad0" text-anchor="middle">3</text>
<circle cx="461.6" cy="375.5" r="10.9" fill="#fff" stroke="#000" stroke-width="2.2"/>
<text x="461.6" y="379.9" font-size="12" fill="#4a9ad0" text-anchor="middle">4</text>
<circle cx="503.7" cy="319.8" r="10.9" fill="#fff" stroke="#000" stroke-width="2.2"/>
<text x="503.7" y="324.2" font-size="12" fill="#4a9ad0" text-anchor="middle">5</text>
<circle cx="513.4" cy="373.8" r="10.9" fill="#fff" stroke="#000" stroke-width="2.2"/>
<text x="513.4" y="378.2" font-size="12" fill="#4a9ad0" text-anchor="middle">6</text>
<circle cx="564.5" cy="297.7" r="10.9" fill="#fff" stroke="#000" stroke-width="2.2"/>
<text x="564.5" y="302.09999999999997" font-size="12" fill="#4a9ad0" text-anchor="middle">7</text>
<path d="M569.85 300V314" stroke="#3d4663" stroke-width="0.9"/>
<circle cx="489.4" cy="373.2" r="14.6" fill="#1f88d2" stroke="#5a5ad0" stroke-width="0.8"/>
<text x="489.4" y="377.8" font-size="11.5" fill="#fff" text-anchor="middle" class="cjk">卖1</text>
<text x="420.7" y="280.6" font-size="21" font-weight="bold" font-style="italic" fill="#1f88d2">H</text>
<text x="583.7" y="384.7" font-size="21" font-weight="bold" font-style="italic" fill="#1f88d2">H</text>
<rect x="374.5" y="463" width="44" height="22" rx="3.5" fill="#a52a2e" stroke="#8a2a5a" stroke-width="1"/>
<text x="396.5" y="477.8" font-size="14.4" fill="#fff" text-anchor="middle">6.28</text>
<rect x="442.6" y="463" width="57" height="22" rx="3.5" fill="#1f88d2" stroke="#3a4fa8" stroke-width="1"/>
<text x="471.4" y="477.8" font-size="14.6" fill="#fff" text-anchor="middle">Target</text>
</g>
<rect x="25.5" y="199.5" width="782.0" height="298.0" fill="none" stroke="#c4c4c4" stroke-width="1"/>
</svg>
</body></html>
